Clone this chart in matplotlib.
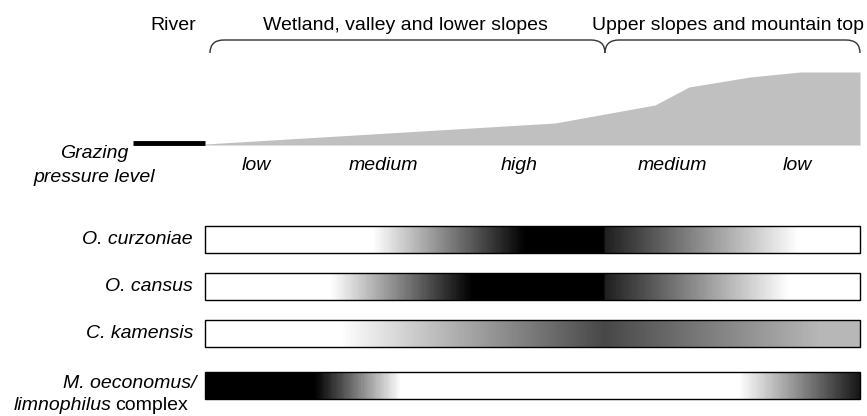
import numpy as np
import matplotlib
matplotlib.use('Agg')
import matplotlib.pyplot as plt
from matplotlib.colors import LinearSegmentedColormap
from matplotlib.path import Path
from matplotlib.patches import PathPatch, Rectangle

plt.rcParams['font.family'] = ['Liberation Sans', 'DejaVu Sans']

# transect positions (pixel-like units along the landscape, 205 = river edge, 860 = mountain top)
x_start, x_end = 205, 860

# terrain profile (elevation drawn as screen y, smaller = higher)
terrain_x = [205, 555, 655, 689, 750, 800, 860]
terrain_y = [144, 123, 105, 87, 77, 72, 72]
baseline_y = 145
river_x = [133, 205]

zones = ['River', 'Wetland, valley and lower slopes', 'Upper slopes and mountain top']
zone_x = [173, 405, 728]
zone_split = 605

grazing_levels = ['low', 'medium', 'high', 'medium', 'low']
grazing_x = [256, 383, 519, 672, 797]

species = ['O. curzoniae', 'O. cansus', 'C. kamensis', 'M. oeconomus/']
# gradient stops: positions along transect and grey level (0 black, 1 white)
stops_pos = [
    [205, 372, 525, 605, 605, 800, 860],
    [205, 330, 472, 605, 605, 790, 860],
    [205, 340, 605, 822, 860],
    [205, 314, 400, 740, 860],
]
stops_grey = [
    [1.0, 1.0, 0.0, 0.0, 0.12, 1.0, 1.0],
    [1.0, 1.0, 0.0, 0.0, 0.12, 1.0, 1.0],
    [1.0, 1.0, 0.28, 0.72, 0.72],
    [0.0, 0.0, 1.0, 1.0, 0.1],
]
bar_top = [226, 273, 320, 372]
bar_h = 27

fs = 14

fig = plt.figure(figsize=(8.67, 4.16), dpi=100)
ax = fig.add_axes([0, 0, 1, 1])
ax.set_xlim(0, 867)
ax.set_ylim(416, 0)
ax.axis('off')

# terrain
ax.fill_between(terrain_x, terrain_y, baseline_y, color='#c0c0c0', lw=0)
ax.plot(river_x, [143, 143], color='black', lw=3.5, solid_capstyle='butt')

# braces
def brace(x0, x1, top=40, bottom=53, r=14):
    verts = [(x0, bottom), (x0, top), (x0 + r, top), (x1 - r, top),
             (x1 - r, top), (x1, top), (x1, bottom)]
    codes = [Path.MOVETO, Path.CURVE3, Path.CURVE3, Path.LINETO,
             Path.MOVETO, Path.CURVE3, Path.CURVE3]
    ax.add_patch(PathPatch(Path(verts, codes), fc='none', ec='#333333', lw=1))

brace(210, zone_split)
brace(zone_split, 860)

for name, x in zip(zones, zone_x):
    ax.text(x, 26, name, ha='center', va='center', fontsize=fs)

ax.text(94, 154, 'Grazing', ha='center', va='center', fontsize=fs, style='italic')
ax.text(94, 177, 'pressure level', ha='center', va='center', fontsize=fs, style='italic')
for name, x in zip(grazing_levels, grazing_x):
    ax.text(x, 165, name, ha='center', va='center', fontsize=fs, style='italic')

# species bars
grad = np.linspace(0, 1, 600).reshape(1, -1)
for i, (pos, grey) in enumerate(zip(stops_pos, stops_grey)):
    p = (np.array(pos) - x_start) / (x_end - x_start)
    cmap = LinearSegmentedColormap.from_list(f'sp{i}', [(pp, (g, g, g)) for pp, g in zip(p, grey)])
    top = bar_top[i]
    ax.imshow(grad, cmap=cmap, aspect='auto', extent=[x_start, x_end, top + bar_h, top],
              interpolation='bilinear', zorder=1)
    ax.add_patch(Rectangle((x_start, top), x_end - x_start, bar_h, fc='none', ec='black', lw=1, zorder=2))
    label_x = 193 if i < 3 else 196
    label_y = top + bar_h / 2 if i < 3 else 383
    ax.text(label_x, label_y, species[i], ha='right', va='center', fontsize=fs, style='italic')

# second line of the last label: italic genus name + upright "complex"
t2 = ax.text(188, 406, 'complex', ha='right', va='center', fontsize=fs)
fig.canvas.draw()
bb = t2.get_window_extent().transformed(ax.transData.inverted())
ax.text(min(bb.x0, bb.x1) - 4, 406, 'limnophilus', ha='right', va='center', fontsize=fs, style='italic')

ax.set_xlim(0, 867)
ax.set_ylim(416, 0)

fig.savefig('out.png', dpi=100)
